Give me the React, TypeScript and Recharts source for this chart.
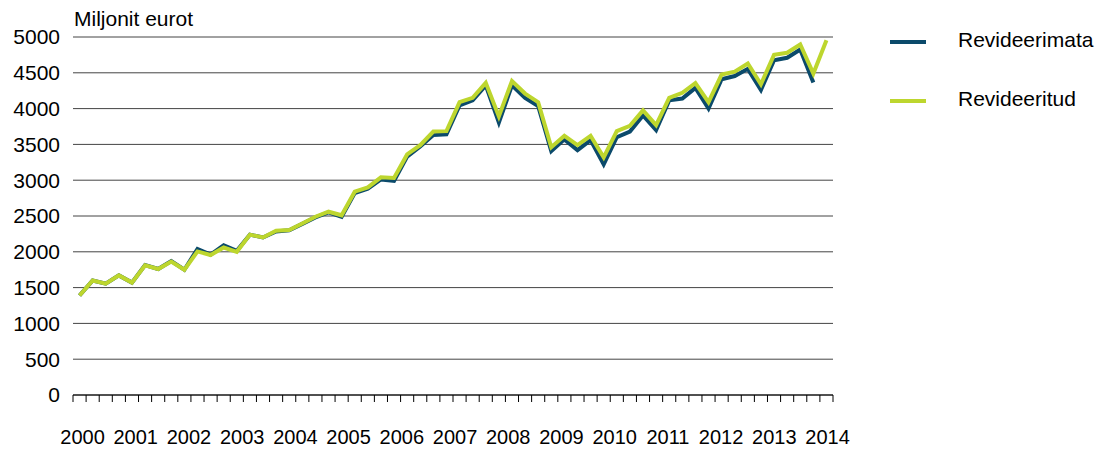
import { CartesianGrid, Legend, Line, LineChart, XAxis, YAxis } from 'recharts'

const years = [
  2000, 2001, 2002, 2003, 2004, 2005, 2006, 2007, 2008, 2009, 2010, 2011, 2012,
  2013, 2014,
]
const quarterNames = ['Q1', 'Q2', 'Q3', 'Q4']

// neljännekset 2000 Q1 – 2014 Q2
const quarters = years
  .flatMap((y) => quarterNames.map((q) => `${y} ${q}`))
  .slice(0, 58)

const revideerimata = [
  1390, 1600, 1555, 1670, 1570, 1815, 1760, 1870, 1750, 2040, 1960, 2090, 2015,
  2240, 2200, 2285, 2300, 2390, 2480, 2550, 2490, 2820, 2880, 3010, 2990, 3330,
  3470, 3630, 3640, 4045, 4115, 4325, 3805, 4325, 4150, 4035, 3405, 3570, 3420,
  3560, 3220, 3600, 3680, 3905, 3700, 4115, 4140, 4290, 4000, 4410, 4455, 4555,
  4260, 4675, 4710, 4825, 4365,
]

const revideeritud = [
  1390, 1600, 1555, 1670, 1570, 1810, 1760, 1865, 1750, 2005, 1955, 2060, 2000,
  2240, 2200, 2295, 2305, 2395, 2490, 2560, 2510, 2840, 2900, 3040, 3030, 3360,
  3490, 3680, 3685, 4090, 4150, 4360, 3890, 4385, 4210, 4090, 3460, 3620, 3490,
  3620, 3320, 3685, 3760, 3975, 3770, 4150, 4220, 4355, 4090, 4475, 4515, 4630,
  4340, 4750, 4780, 4895, 4490, 4955,
]

const yTicks = [0, 500, 1000, 1500, 2000, 2500, 3000, 3500, 4000, 4500, 5000]

const data = quarters.map((q, i) => ({
  i,
  q,
  revideerimata: revideerimata[i] ?? null,
  revideeritud: revideeritud[i] ?? null,
}))

// tick marks sit on the borders between quarters
const borderTicks = quarters.map((_, i) => i - 0.5).concat(quarters.length - 0.5)
// year labels at each Q1
const yearTicks = quarters.map((_, i) => i).filter((i) => i % 4 === 0)

const FONT = '"Liberation Sans", Arial, sans-serif'
const DARK = '#0b4a6b'
const GREEN = '#bdd62e'

function NoLabel() {
  return <g />
}

function YearTick(props: any) {
  const { x, y, payload, index } = props
  return (
    <text
      x={x + 3 + index * 0.8}
      y={y}
      dy={19}
      textAnchor="middle"
      fontSize={20}
      fontFamily={FONT}
      fill="#000"
    >
      {quarters[payload.value].slice(0, 4)}
    </text>
  )
}

function LegendBox(props: any) {
  const items = props.payload || []
  return (
    <div style={{ fontFamily: FONT, fontSize: 21, color: '#000' }}>
      {items.map((it: any, k: number) => (
        <div
          key={it.value}
          style={{ position: 'absolute', top: k * 59, left: 0, height: 24, whiteSpace: 'nowrap' }}
        >
          <div
            style={{
              position: 'absolute',
              left: 0,
              top: 11,
              width: 36,
              height: 4,
              background: it.color,
            }}
          />
          <span style={{ position: 'absolute', left: 68, top: -1, lineHeight: '24px' }}>
            {it.value}
          </span>
        </div>
      ))}
    </div>
  )
}

export default function App() {
  return (
    <div style={{ position: 'relative', width: 1102, height: 450 }}>
      <style>{'body{margin:0}'}</style>
      <LineChart
        width={1102}
        height={450}
        data={data}
        margin={{ top: 37, right: 269, left: 0, bottom: 0 }}
      >
        <text x={74} y={26} fontSize={21} fontFamily={FONT} fill="#000">
          Miljonit eurot
        </text>
        <CartesianGrid horizontal vertical={false} stroke="#444" />
        <XAxis
          xAxisId="q"
          dataKey="i"
          type="number"
          domain={[-0.5, quarters.length - 0.5]}
          ticks={borderTicks}
          tick={<NoLabel />}
          tickLine={{ stroke: '#000' }}
          tickSize={7}
          stroke="#000"
          height={10}
          interval={0}
        />
        <XAxis
          xAxisId="yr"
          dataKey="i"
          type="number"
          domain={[-0.5, quarters.length - 0.5]}
          ticks={yearTicks}
          tick={<YearTick />}
          axisLine={false}
          tickLine={false}
          tickSize={0}
          tickMargin={20}
          height={45}
          interval={0}
        />
        <YAxis
          domain={[0, 5000]}
          ticks={yTicks}
          interval={0}
          axisLine={false}
          tickLine={false}
          tickMargin={7}
          width={73}
          tick={{ fontSize: 21, fontFamily: FONT, fill: '#000' }}
        />
        <Legend
          layout="vertical"
          align="center"
          verticalAlign="middle"
          wrapperStyle={{ left: 890, top: 29, width: 212, height: 90 }}
          content={<LegendBox />}
        />
        <Line
          xAxisId="q"
          dataKey="revideerimata"
          name="Revideerimata"
          stroke={DARK}
          strokeWidth={4}
          dot={false}
          isAnimationActive={false}
        />
        <Line
          xAxisId="q"
          dataKey="revideeritud"
          name="Revideeritud"
          stroke={GREEN}
          strokeWidth={4}
          dot={false}
          isAnimationActive={false}
        />
      </LineChart>
    </div>
  )
}
